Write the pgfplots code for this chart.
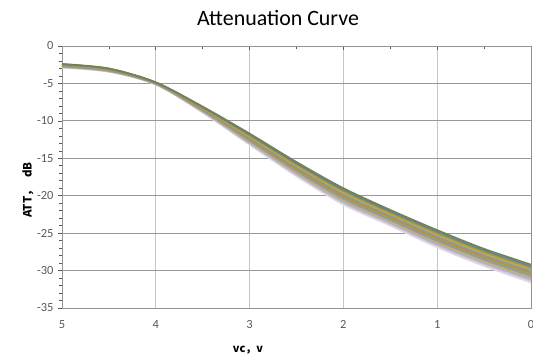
\documentclass[border=0pt]{standalone}
\usepackage{fontspec}
\setmainfont{Carlito}
\newfontfamily\cjk{Noto Sans CJK SC}
\usepackage{pgfplots}
\pgfplotsset{compat=1.18}
\definecolor{c1}{HTML}{74805A}
\definecolor{c2}{HTML}{5B86A8}
\definecolor{c3}{HTML}{A89A2C}
\definecolor{c4}{HTML}{C8A640}
\definecolor{c5}{HTML}{7A9BB0}
\definecolor{c6}{HTML}{C28A4A}
\definecolor{c7}{HTML}{9AA254}
\definecolor{c8}{HTML}{8F98BE}
\definecolor{c9}{HTML}{C7B65A}
\definecolor{c10}{HTML}{B3AAC9}
\definecolor{c11}{HTML}{CDC6DA}
\definecolor{c12}{HTML}{E0DBE6}
\definecolor{tickgray}{HTML}{595959}
\begin{document}
\begin{tikzpicture}
\useasboundingbox (-62bp,-51bp) rectangle (471bp,308bp);
\begin{axis}[
  scale only axis, width=469bp, height=262bp,
  at={(0,0)}, anchor=south west,
  xmin=0, xmax=5, ymin=-35, ymax=0,
  x dir=reverse,
  xtick={0,1,2,3,4,5}, ytick={-35,-30,-25,-20,-15,-10,-5,0},
  minor x tick num=1, minor y tick num=4,
  tick align=outside,
  major tick length=4bp, minor tick length=3bp,
  ytick pos=left, xtick pos=right, xticklabel pos=left,
  every major x tick/.style={yshift=-4bp},
  every minor x tick/.style={yshift=-3bp},
  tick style={color=gray!70!black, line width=0.6pt},
  xmajorgrids, ymajorgrids,
  x grid style={color=gray!45, line width=0.8pt},
  y grid style={color=gray!80, line width=0.9pt},
  axis line style={color=gray!85, line width=0.9pt},
  /pgf/number format/assume math mode=true,
  ticklabel style={font=\fontsize{12.5}{14}\selectfont, text=tickgray},
  xticklabel style={yshift=-5bp},
  yticklabel style={xshift=-1bp},
  clip=true,
  every axis plot/.append style={line width=1.7pt, smooth, no marks},
]
\addplot[c12] coordinates {(5,-2.90) (4.5,-3.45) (4,-5.15) (3.5,-8.90) (3,-13.20) (2.5,-17.40) (2,-21.20) (1.5,-24.00) (1,-26.90) (0.5,-29.40) (0,-31.60)};
\addplot[c11] coordinates {(5,-2.85) (4.5,-3.41) (4,-5.12) (3.5,-8.83) (3,-13.06) (2.5,-17.23) (2,-21.00) (1.5,-23.81) (1,-26.69) (0.5,-29.19) (0,-31.38)};
\addplot[c10] coordinates {(5,-2.81) (4.5,-3.37) (4,-5.10) (3.5,-8.75) (3,-12.93) (2.5,-17.05) (2,-20.80) (1.5,-23.62) (1,-26.48) (0.5,-28.98) (0,-31.16)};
\addplot[c9] coordinates {(5,-2.76) (4.5,-3.33) (4,-5.07) (3.5,-8.68) (3,-12.79) (2.5,-16.88) (2,-20.60) (1.5,-23.43) (1,-26.27) (0.5,-28.77) (0,-30.95)};
\addplot[c8] coordinates {(5,-2.72) (4.5,-3.29) (4,-5.04) (3.5,-8.61) (3,-12.65) (2.5,-16.71) (2,-20.40) (1.5,-23.24) (1,-26.06) (0.5,-28.56) (0,-30.73)};
\addplot[c7] coordinates {(5,-2.67) (4.5,-3.25) (4,-5.01) (3.5,-8.54) (3,-12.52) (2.5,-16.54) (2,-20.20) (1.5,-23.05) (1,-25.85) (0.5,-28.35) (0,-30.51)};
\addplot[c6] coordinates {(5,-2.63) (4.5,-3.20) (4,-4.99) (3.5,-8.46) (3,-12.38) (2.5,-16.36) (2,-20.00) (1.5,-22.85) (1,-25.65) (0.5,-28.15) (0,-30.29)};
\addplot[c5] coordinates {(5,-2.58) (4.5,-3.16) (4,-4.96) (3.5,-8.39) (3,-12.25) (2.5,-16.19) (2,-19.80) (1.5,-22.66) (1,-25.44) (0.5,-27.94) (0,-30.07)};
\addplot[c4] coordinates {(5,-2.54) (4.5,-3.12) (4,-4.93) (3.5,-8.32) (3,-12.11) (2.5,-16.02) (2,-19.60) (1.5,-22.47) (1,-25.23) (0.5,-27.73) (0,-29.85)};
\addplot[c3] coordinates {(5,-2.49) (4.5,-3.08) (4,-4.90) (3.5,-8.25) (3,-11.97) (2.5,-15.85) (2,-19.40) (1.5,-22.28) (1,-25.02) (0.5,-27.52) (0,-29.64)};
\addplot[c2] coordinates {(5,-2.45) (4.5,-3.04) (4,-4.88) (3.5,-8.17) (3,-11.84) (2.5,-15.67) (2,-19.20) (1.5,-22.09) (1,-24.81) (0.5,-27.31) (0,-29.42)};
\addplot[c1] coordinates {(5,-2.40) (4.5,-3.00) (4,-4.85) (3.5,-8.10) (3,-11.70) (2.5,-15.50) (2,-19.00) (1.5,-21.90) (1,-24.60) (0.5,-27.10) (0,-29.20)};
\end{axis}
\node[font=\fontsize{22}{26}\selectfont] at (216bp,290bp) {Attenuation Curve};
\node[rotate=90, font=\cjk\bfseries\fontsize{11.5}{13}\selectfont] at (-34bp,118bp) {ATT，\hspace{7bp}dB};
\node[font=\cjk\bfseries\fontsize{11}{13}\selectfont] at (186bp,-42bp) {vc，v};
\end{tikzpicture}
\end{document}
